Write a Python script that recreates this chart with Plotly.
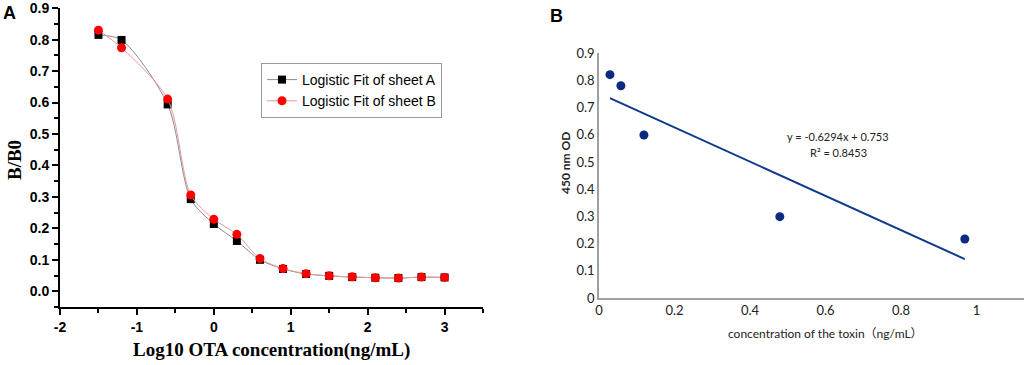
import plotly.graph_objects as go

# ---- Panel A data ----
log_conc = [-1.5, -1.2, -0.6, -0.3, 0.0, 0.3, 0.6, 0.9, 1.2, 1.5, 1.8, 2.1, 2.4, 2.7, 3.0]
sheet_a = [0.815, 0.799, 0.594, 0.293, 0.214, 0.160, 0.100, 0.071, 0.055, 0.049, 0.045, 0.043, 0.042, 0.045, 0.044]
sheet_b = [0.830, 0.774, 0.611, 0.306, 0.229, 0.181, 0.104, 0.072, 0.056, 0.049, 0.046, 0.043, 0.042, 0.045, 0.044]
series_names = ["Logistic Fit of sheet A", "Logistic Fit of sheet B"]
a_xticks = [-2, -1, 0, 1, 2, 3]
a_xticklabels = ["-2", "-1", "0", "1", "2", "3"]
a_yticks = [0.0, 0.1, 0.2, 0.3, 0.4, 0.5, 0.6, 0.7, 0.8, 0.9]

# ---- Panel B data ----
toxin_conc = [0.029, 0.058, 0.119, 0.479, 0.969]
od_450 = [0.821, 0.780, 0.599, 0.299, 0.217]
slope = -0.6294
intercept = 0.753
r_squared = 0.8453
trend_x = [toxin_conc[0], toxin_conc[-1]]
trend_y = [slope * x + intercept for x in trend_x]
b_xticks = [0, 0.2, 0.4, 0.6, 0.8, 1]
b_xticklabels = ["0", "0.2", "0.4", "0.6", "0.8", "1"]
b_yticks = [0, 0.1, 0.2, 0.3, 0.4, 0.5, 0.6, 0.7, 0.8, 0.9]
b_yticklabels = ["0", "0.1", "0.2", "0.3", "0.4", "0.5", "0.6", "0.7", "0.8", "0.9"]

W, H = 1024, 365
def px(x):
    return x / W
def py(y):
    return 1 - y / H

fig = go.Figure()

fig.add_trace(go.Scatter(
    x=log_conc, y=sheet_a, mode="lines+markers", name=series_names[0],
    line=dict(color="#8a8a8a", width=1, shape="spline", smoothing=0.8),
    marker=dict(symbol="square", size=8, color="black"),
    xaxis="x", yaxis="y"))
fig.add_trace(go.Scatter(
    x=log_conc, y=sheet_b, mode="lines+markers", name=series_names[1],
    line=dict(color="#e89a9a", width=1, shape="spline", smoothing=0.8),
    marker=dict(symbol="circle", size=9, color="#ff0000"),
    xaxis="x", yaxis="y"))

fig.add_trace(go.Scatter(
    x=trend_x, y=trend_y, mode="lines", showlegend=False,
    line=dict(color="#0d3a8c", width=2),
    xaxis="x2", yaxis="y2"))
fig.add_trace(go.Scatter(
    x=toxin_conc, y=od_450, mode="markers", showlegend=False,
    marker=dict(symbol="circle", size=9, color="#0b2a80"),
    xaxis="x2", yaxis="y2"))

boldfont = dict(family="Arial, Liberation Sans", size=14, color="black", weight="bold")
bfont = dict(family="Lato, Arial", size=13, color="#222")

fig.update_layout(
    template="none",
    width=W, height=H,
    margin=dict(l=0, r=0, t=0, b=0, pad=0),
    paper_bgcolor="white", plot_bgcolor="white",
    showlegend=True,
    legend=dict(x=px(261), y=py(63), xanchor="left", yanchor="top",
                bordercolor="#999", borderwidth=1, bgcolor="white",
                font=dict(family="Arial, Liberation Sans", size=14, color="black"),
                tracegroupgap=0, itemwidth=30),
    xaxis=dict(domain=[px(60), px(483)], range=[-2, 3.5], anchor="y", automargin=False,
               tickvals=a_xticks, ticktext=a_xticklabels, ticks="outside", ticklen=6, tickwidth=2,
               tickcolor="black",
               minor=dict(dtick=0.5, ticks="outside", ticklen=4, tickwidth=1.5, tickcolor="black"),
               showline=True, linecolor="black", linewidth=2, showgrid=False, zeroline=False,
               tickfont=boldfont),
    yaxis=dict(domain=[py(307), py(8)], range=[-0.05, 0.9005], anchor="x", automargin=False,
               tickvals=a_yticks, tickformat=".1f",
               ticks="outside", ticklen=6, tickwidth=2, tickcolor="black",
               minor=dict(dtick=0.05, tick0=0, ticks="outside", ticklen=4, tickwidth=1.5, tickcolor="black"),
               showline=True, linecolor="black", linewidth=2, showgrid=False, zeroline=False,
               tickfont=boldfont, ticklabeloverflow="allow"),
    xaxis2=dict(domain=[px(599), 1.0], range=[0, (W - 599) / 377.5], anchor="y2", automargin=False,
                tickvals=b_xticks, ticktext=b_xticklabels,
                ticks="", showline=True, linecolor="#a0a0a0", linewidth=1.5,
                showgrid=False, zeroline=False, tickfont=bfont),
    yaxis2=dict(domain=[py(298), py(53)], range=[0, 0.9005], anchor="x2", automargin=False,
                tickvals=b_yticks, ticktext=b_yticklabels,
                ticks="", showline=True, linecolor="#a0a0a0", linewidth=1.5,
                showgrid=False, zeroline=False, tickfont=bfont),
)

ann = []
ann.append(dict(text="<b>A</b>", x=px(9), y=py(13), xref="paper", yref="paper",
                xanchor="center", yanchor="middle", showarrow=False,
                font=dict(family="Arial", size=18, color="black")))
ann.append(dict(text="<b>B</b>", x=px(556), y=py(16), xref="paper", yref="paper",
                xanchor="center", yanchor="middle", showarrow=False,
                font=dict(family="Arial", size=18, color="black")))
ann.append(dict(text="<b>B/B0</b>", x=px(14), y=py(160), xref="paper", yref="paper",
                xanchor="center", yanchor="middle", showarrow=False, textangle=-90,
                font=dict(family="Liberation Serif, Times New Roman", size=19, color="black")))
ann.append(dict(text="<b>Log10 OTA concentration(ng/mL)</b>", x=px(271), y=py(350), xref="paper", yref="paper",
                xanchor="center", yanchor="middle", showarrow=False,
                font=dict(family="Liberation Serif, Times New Roman", size=19, color="black")))
ann.append(dict(text="<b>450 nm OD</b>", x=px(565), y=py(163), xref="paper", yref="paper",
                xanchor="center", yanchor="middle", showarrow=False, textangle=-90,
                font=dict(family="Lato, Arial", size=12, color="#222")))
ann.append(dict(text="concentration of the toxin（ng/mL）", x=px(825), y=py(333), xref="paper", yref="paper",
                xanchor="center", yanchor="middle", showarrow=False,
                font=dict(family="Lato, Noto Sans CJK SC", size=12, color="#222")))
ann.append(dict(text=f"y = {slope}x + {intercept}", x=px(838), y=py(136), xref="paper", yref="paper",
                xanchor="center", yanchor="middle", showarrow=False,
                font=dict(family="Lato, Arial", size=11, color="#222")))
ann.append(dict(text=f"R² = {r_squared}", x=px(838), y=py(153), xref="paper", yref="paper",
                xanchor="center", yanchor="middle", showarrow=False,
                font=dict(family="Lato, Arial", size=11, color="#222")))
fig.update_layout(annotations=ann)

fig.write_html("out.html",
               config={"displayModeBar": False},
               post_script="document.body.style.margin='0';document.body.style.overflow='hidden';")
